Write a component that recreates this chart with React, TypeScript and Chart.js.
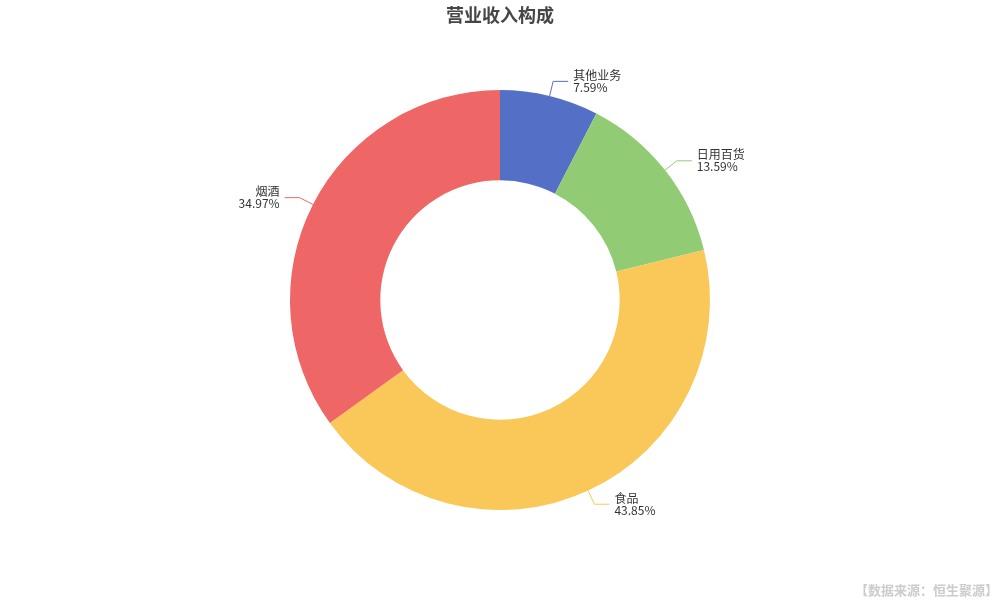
import { useEffect, useRef } from "react"
import { Chart, registerables, Plugin } from "chart.js"

Chart.register(...registerables)

const categories = ["其他业务", "日用百货", "食品", "烟酒"]
const shares = [7.59, 13.59, 43.85, 34.97]
const colors = ["#5470c6", "#91cc75", "#fac858", "#ee6666"]

const FONT = '"Noto Sans CJK SC", "Noto Sans", sans-serif'

const sliceLabels: Plugin<"doughnut"> = {
  id: "sliceLabels",
  afterDraw(chart) {
    const ctx = chart.ctx
    const meta = chart.getDatasetMeta(0)
    ctx.save()
    meta.data.forEach((el, i) => {
      const p = (el as any).getProps(["x", "y", "startAngle", "endAngle", "outerRadius"], true)
      const mid = (p.startAngle + p.endAngle) / 2
      const cos = Math.cos(mid)
      const sin = Math.sin(mid)
      const x0 = p.x + cos * p.outerRadius
      const y0 = p.y + sin * p.outerRadius
      const x1 = p.x + cos * (p.outerRadius + 15)
      const y1 = p.y + sin * (p.outerRadius + 15)
      const right = cos >= 0
      const x2 = x1 + (right ? 15 : -15)
      ctx.strokeStyle = colors[i]
      ctx.lineWidth = 1
      ctx.beginPath()
      ctx.moveTo(x0, y0)
      ctx.lineTo(x1, y1)
      ctx.lineTo(x2, y1)
      ctx.stroke()
      ctx.fillStyle = "#333"
      ctx.font = `12px ${FONT}`
      ctx.textAlign = right ? "left" : "right"
      ctx.textBaseline = "middle"
      const tx = x2 + (right ? 5 : -5)
      ctx.fillText(categories[i], tx, y1 - 6)
      ctx.fillText(shares[i].toFixed(2) + "%", tx, y1 + 6)
    })

    // title
    ctx.fillStyle = "#464646"
    ctx.font = `bold 18px ${FONT}`
    ctx.textAlign = "center"
    ctx.textBaseline = "middle"
    ctx.fillText("营业收入构成", 500, 15)

    // source note
    ctx.fillStyle = "#cccccc"
    ctx.font = `bold 13px ${FONT}`
    ctx.textAlign = "right"
    ctx.fillText("【数据来源：恒生聚源】", 998, 590)
    ctx.restore()
  },
}

export default function App() {
  const chartRef = useRef<HTMLCanvasElement>(null)
  const chartInstance = useRef<Chart<"doughnut"> | null>(null)

  useEffect(() => {
    document.body.style.margin = "0"
    if (!chartRef.current) return
    if (chartInstance.current) chartInstance.current.destroy()
    const ctx = chartRef.current.getContext("2d")
    if (!ctx) return

    chartInstance.current = new Chart(ctx, {
      type: "doughnut",
      data: {
        labels: categories,
        datasets: [
          {
            data: shares,
            backgroundColor: colors,
            borderWidth: 0,
          },
        ],
      },
      options: {
        responsive: false,
        animation: false,
        cutout: "57%",
        layout: { padding: { top: 90, bottom: 90, left: 0, right: 0 } },
        plugins: {
          legend: { display: false },
          tooltip: { enabled: false },
        },
      },
      plugins: [sliceLabels],
    })

    return () => {
      if (chartInstance.current) {
        chartInstance.current.destroy()
        chartInstance.current = null
      }
    }
  }, [])

  return (
    <div style={{ width: 1000, height: 600, background: "#fff" }}>
      <canvas ref={chartRef} width={1000} height={600} />
    </div>
  )
}
